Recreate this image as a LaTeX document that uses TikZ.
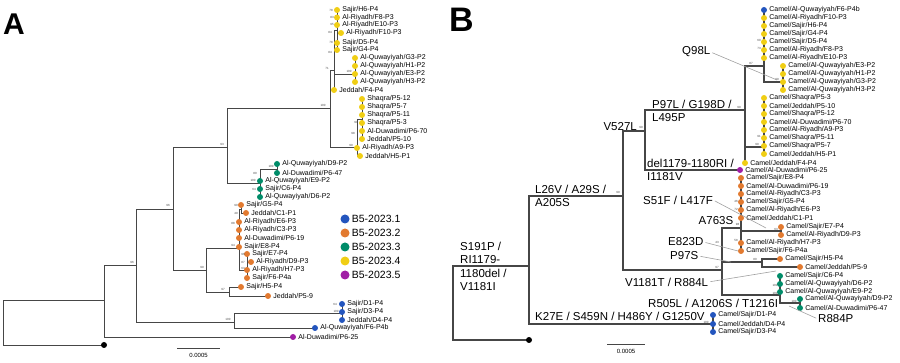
\documentclass[tikz,border=0pt]{standalone}
\usepackage{fontspec}
\setmainfont{Liberation Sans}
\usepackage{tikz}
\usetikzlibrary{arrows.meta,positioning,calc}
\definecolor{cbleu}{RGB}{35,85,190}
\definecolor{corange}{RGB}{226,122,48}
\definecolor{cvert}{RGB}{0,140,105}
\definecolor{cjaune}{RGB}{240,206,20}
\definecolor{cviolet}{RGB}{160,30,165}
\definecolor{gristrait}{RGB}{70,70,70}
\definecolor{grisfleche}{RGB}{160,160,160}
\pgfdeclarelayer{fond}
\pgfsetlayers{fond,main}

\begin{document}
\begin{tikzpicture}[x=1pt, y=-1pt, >=Stealth, label distance=2pt,
    brA/.style={draw=gristrait, line width=0.9pt},
    brB/.style={draw=gristrait, line width=1.2pt},
    leaf/.style={circle, fill=#1, inner sep=0pt, minimum size=6pt},
    tx/.style={font=\fontsize{7}{8}\selectfont, inner sep=0pt},
    bs/.style={font=\fontsize{3}{3}\selectfont, inner sep=0pt, text=gristrait},
    leg/.style={font=\fontsize{10.5}{12}\selectfont, inner sep=0pt},
    mut/.style={font=\fontsize{11.5}{13.3}\selectfont, inner sep=0pt, align=left},
    ptr/.style={draw=grisfleche, line width=0.6pt, shorten <=2pt}]

    \useasboundingbox (0,0) rectangle (900,363);

    % Lettres des panneaux
    \node[font=\bfseries\fontsize{30}{30}\selectfont, inner sep=0pt, anchor=base west] (lettreA) at (3,35) {A};
    \node[font=\bfseries\fontsize{34}{34}\selectfont, inner sep=0pt, anchor=base west] (lettreB) at (449,32) {B};

    % ---------------- Arbre A ----------------
    % Noeuds internes
    \coordinate (aR) at (3,322);
    \coordinate (aN1) at (104,300);
    \coordinate (aN2) at (136,265);
    \coordinate (aN3) at (173,209);
    \coordinate (aN4) at (227,147);
    \coordinate (aNy) at (330,108);
    \coordinate (aNy1) at (334,70);
    \coordinate (aBB) at (337,30);
    \coordinate (aNq) at (355,74);
    \coordinate (aNsh) at (357,147);
    \coordinate (aNs2) at (362,119);
    \coordinate (aNg) at (260,183);
    \coordinate (aNg2) at (277,169);
    \coordinate (aNor) at (206,270);
    \coordinate (aNob) at (239,248);
    \coordinate (aNoG) at (241,209);
    \coordinate (aNoE) at (247,270);
    \coordinate (aNoh) at (229,292);
    \coordinate (aNbl) at (234,322);
    \coordinate (aNb1) at (342,313);

    % B5-2023.4 (jaune)
    \node[leaf=cjaune, label={[tx]right:Sajir/H6-P4}] (aH6) at (337,10) {};
    \node[leaf=cjaune, label={[tx]right:Al-Riyadh/F8-P3}] (aF8) at (337,17.5) {};
    \node[leaf=cjaune, label={[tx]right:Al-Riyadh/E10-P3}] (aE10) at (337,25) {};
    \node[leaf=cjaune, label={[tx]right:Al-Riyadh/F10-P3}] (aF10) at (341,33) {};
    \node[leaf=cjaune, label={[tx]right:Sajir/D5-P4}] (aD5) at (337,43) {};
    \node[leaf=cjaune, label={[tx]right:Sajir/G4-P4}] (aG4) at (337,50) {};
    \node[leaf=cjaune, label={[tx]right:Al-Quwayiyah/G3-P2}] (aG3) at (355,58) {};
    \node[leaf=cjaune, label={[tx]right:Al-Quwayiyah/H1-P2}] (aH1) at (355,66) {};
    \node[leaf=cjaune, label={[tx]right:Al-Quwayiyah/E3-P2}] (aE3) at (355,74) {};
    \node[leaf=cjaune, label={[tx]right:Al-Quwayiyah/H3-P2}] (aH3) at (355,82) {};
    \node[leaf=cjaune, label={[tx]right:Jeddah/F4-P4}] (aF4) at (334,90) {};
    \node[leaf=cjaune, label={[tx]right:Shaqra/P5-12}] (aP512) at (362,99) {};
    \node[leaf=cjaune, label={[tx]right:Shaqra/P5-7}] (aP57) at (362,107) {};
    \node[leaf=cjaune, label={[tx]right:Shaqra/P5-11}] (aP511) at (362,115) {};
    \node[leaf=cjaune, label={[tx]right:Shaqra/P5-3}] (aP53) at (362,123) {};
    \node[leaf=cjaune, label={[tx]right:Al-Duwadimi/P6-70}] (aP670) at (362,131) {};
    \node[leaf=cjaune, label={[tx]right:Jeddah/P5-10}] (aP510) at (362,139) {};
    \node[leaf=cjaune, label={[tx]right:Al-Riyadh/A9-P3}] (aA9) at (357,148) {};
    \node[leaf=cjaune, label={[tx]right:Jeddah/H5-P1}] (aH5P1) at (360,156) {};

    % B5-2023.3 (vert)
    \node[leaf=cvert, label={[tx]right:Al-Quwayiyah/D9-P2}] (aD9) at (277,164) {};
    \node[leaf=cvert, label={[tx]right:Al-Duwadimi/P6-47}] (aP647) at (277,173) {};
    \node[leaf=cvert, label={[tx]right:Al-Quwayiyah/E9-P2}] (aE9) at (260,181) {};
    \node[leaf=cvert, label={[tx]right:Sajir/C6-P4}] (aC6) at (260,189) {};
    \node[leaf=cvert, label={[tx]right:Al-Quwayiyah/D6-P2}] (aD6) at (260,197) {};

    % B5-2023.2 (orange)
    \node[leaf=corange, label={[tx]right:Sajir/G5-P4}] (aG5) at (241,205) {};
    \node[leaf=corange, label={[tx]right:Jeddah/C1-P1}] (aC1) at (246,213) {};
    \node[leaf=corange, label={[tx]right:Al-Riyadh/E6-P3}] (aE6) at (239,222) {};
    \node[leaf=corange, label={[tx]right:Al-Riyadh/C3-P3}] (aC3) at (239,230) {};
    \node[leaf=corange, label={[tx]right:Al-Duwadimi/P6-19}] (aP619) at (239,238) {};
    \node[leaf=corange, label={[tx]right:Sajir/E8-P4}] (aE8) at (239,247) {};
    \node[leaf=corange, label={[tx]right:Sajir/E7-P4}] (aE7) at (247,254) {};
    \node[leaf=corange, label={[tx]right:Al-Riyadh/D9-P3}] (aD9r) at (251,262) {};
    \node[leaf=corange, label={[tx]right:Al-Riyadh/H7-P3}] (aH7) at (247,270) {};
    \node[leaf=corange, label={[tx]right:Sajir/F6-P4a}] (aF6a) at (247,278) {};
    \node[leaf=corange, label={[tx]right:Sajir/H5-P4}] (aH5) at (241,287) {};
    \node[leaf=corange, label={[tx]right:Jeddah/P5-9}] (aP59) at (268,296) {};

    % B5-2023.1 (bleu) et B5-2023.5 (violet)
    \node[leaf=cbleu, label={[tx]right:Sajir/D1-P4}] (aD1) at (342,304) {};
    \node[leaf=cbleu, label={[tx]right:Sajir/D3-P4}] (aD3) at (342,312) {};
    \node[leaf=cbleu, label={[tx]right:Jeddah/D4-P4}] (aD4) at (342,320) {};
    \node[leaf=cbleu, label={[tx]right:Al-Quwayiyah/F6-P4b}] (aF6b) at (315,328) {};
    \node[leaf=cviolet, label={[tx]right:Al-Duwadimi/P6-25}] (aP625) at (293,337) {};
    \node[leaf=black] (aOut) at (104,345) {};

    % Valeurs de bootstrap
    \node[bs] (ba1) at (132,262) {96};
    \node[bs] (ba2) at (168,205) {96};
    \node[bs] (ba3) at (222,144) {93};
    \node[bs] (ba4) at (323,105) {100};
    \node[bs] (ba5) at (202,267) {99};
    \node[bs] (ba6) at (233,245) {94};
    \node[bs] (ba7) at (223,289) {97};
    \node[bs] (ba8) at (228,319) {100};
    \node[bs] (ba9) at (253,180) {100};
    \node[bs] (ba10) at (271,166) {100};
    \node[bs] (ba11) at (255,173) {80};
    \node[bs] (ba12) at (254,189) {64};
    \node[bs] (ba13) at (327,68) {71};
    \node[bs] (ba14) at (349,71) {100};
    \node[bs] (ba15) at (331,10) {78};
    \node[bs] (ba16) at (332,17) {83};
    \node[bs] (ba17) at (332,24) {95};
    \node[bs] (ba18) at (330,32) {84};
    \node[bs] (ba19) at (331,42) {78};
    \node[bs] (ba20) at (330,52) {84};
    \node[bs] (ba21) at (351,145) {99};
    \node[bs] (ba22) at (353,133) {98};
    \node[bs] (ba23) at (356,122) {99};
    \node[bs] (ba24) at (236,205) {90};
    \node[bs] (ba25) at (236,213) {49};
    \node[bs] (ba26) at (233,223) {88};
    \node[bs] (ba27) at (243,254) {96};
    \node[bs] (ba28) at (243,262) {87};
    \node[bs] (ba29) at (243,268) {63};
    \node[bs] (ba30) at (335,304) {64};
    \node[bs] (ba31) at (336,311) {100};

    % Legende
    \node[circle, fill=cbleu, minimum size=9pt, inner sep=0pt, label={[leg]right:B5-2023.1}] (lg1) at (345,219) {};
    \node[circle, fill=corange, minimum size=9pt, inner sep=0pt, label={[leg]right:B5-2023.2}] (lg2) at (345,233) {};
    \node[circle, fill=cvert, minimum size=9pt, inner sep=0pt, label={[leg]right:B5-2023.3}] (lg3) at (345,247) {};
    \node[circle, fill=cjaune, minimum size=9pt, inner sep=0pt, label={[leg]right:B5-2023.4}] (lg4) at (345,261) {};
    \node[circle, fill=cviolet, minimum size=9pt, inner sep=0pt, label={[leg]right:B5-2023.5}] (lg5) at (345,275) {};

    % Echelle A
    \coordinate (aSc1) at (177,348);
    \coordinate (aSc2) at (220,348);
    \draw[brA, line width=0.7pt] (aSc1) -- (aSc2) node[midway, below=5pt, inner sep=0pt, font=\fontsize{6}{6}\selectfont] (aScT) {0.0005};

    % ---------------- Arbre B ----------------
    \coordinate (bR) at (453,303);
    \coordinate (bN1) at (529,266);
    \coordinate (bN2) at (623,196);
    \coordinate (bN3) at (645,131);
    \coordinate (bN4) at (722,270);
    \coordinate (bN5) at (745,110);
    \coordinate (bN6) at (764,66);
    \coordinate (bNq) at (783,82);
    \coordinate (bNsh) at (764,147);
    \coordinate (bNor) at (741,228);
    \coordinate (bNe) at (781,231);
    \coordinate (bNh) at (762,262);
    \coordinate (bNg) at (780,295);
    \coordinate (bNg2) at (800,303);
    \coordinate (bNbl) at (713,324);

    \node[leaf=cbleu, label={[tx]right:Camel/Al-Quwayiyah/F6-P4b}] (bF6b) at (764,10) {};
    \node[leaf=cjaune, label={[tx]right:Camel/Al-Riyadh/F10-P3}] (bF10) at (764,18) {};
    \node[leaf=cjaune, label={[tx]right:Camel/Sajir/H6-P4}] (bH6) at (764,26) {};
    \node[leaf=cjaune, label={[tx]right:Camel/Sajir/G4-P4}] (bG4) at (764,34) {};
    \node[leaf=cjaune, label={[tx]right:Camel/Sajir/D5-P4}] (bD5) at (764,42) {};
    \node[leaf=cjaune, label={[tx]right:Camel/Al-Riyadh/F8-P3}] (bF8) at (764,50) {};
    \node[leaf=cjaune, label={[tx]right:Camel/Al-Riyadh/E10-P3}] (bE10) at (764,58) {};
    \node[leaf=cjaune, label={[tx]right:Camel/Al-Quwayiyah/E3-P2}] (bE3) at (783,66) {};
    \node[leaf=cjaune, label={[tx]right:Camel/Al-Quwayiyah/H1-P2}] (bH1) at (783,74) {};
    \node[leaf=cjaune, label={[tx]right:Camel/Al-Quwayiyah/G3-P2}] (bG3) at (783,82) {};
    \node[leaf=cjaune, label={[tx]right:Camel/Al-Quwayiyah/H3-P2}] (bH3) at (783,90) {};
    \node[leaf=cjaune, label={[tx]right:Camel/Shaqra/P5-3}] (bP53) at (764,98) {};
    \node[leaf=cjaune, label={[tx]right:Camel/Jeddah/P5-10}] (bP510) at (764,106) {};
    \node[leaf=cjaune, label={[tx]right:Camel/Shaqra/P5-12}] (bP512) at (764,114) {};
    \node[leaf=cjaune, label={[tx]right:Camel/Al-Duwadimi/P6-70}] (bP670) at (764,122) {};
    \node[leaf=cjaune, label={[tx]right:Camel/Al-Riyadh/A9-P3}] (bA9) at (764,130) {};
    \node[leaf=cjaune, label={[tx]right:Camel/Shaqra/P5-11}] (bP511) at (764,138) {};
    \node[leaf=cjaune, label={[tx]right:Camel/Shaqra/P5-7}] (bP57) at (764,146) {};
    \node[leaf=cjaune, label={[tx]right:Camel/Jeddah/H5-P1}] (bH5P1) at (764,154) {};
    \node[leaf=cjaune, label={[tx]right:Camel/Jeddah/F4-P4}] (bF4) at (745,163) {};
    \node[leaf=cviolet, label={[tx]right:Camel/Al-Duwadimi/P6-25}] (bP625) at (740,170) {};
    \node[leaf=corange, label={[tx]right:Camel/Sajir/E8-P4}] (bE8) at (741,178) {};
    \node[leaf=corange, label={[tx]right:Camel/Al-Duwadimi/P6-19}] (bP619) at (741,186) {};
    \node[leaf=corange, label={[tx]right:Camel/Al-Riyadh/C3-P3}] (bC3) at (741,194) {};
    \node[leaf=corange, label={[tx]right:Camel/Sajir/G5-P4}] (bG5) at (741,202) {};
    \node[leaf=corange, label={[tx]right:Camel/Al-Riyadh/E6-P3}] (bE6) at (741,210) {};
    \node[leaf=corange, label={[tx]right:Camel/Jeddah/C1-P1}] (bC1) at (741,218) {};
    \node[leaf=corange, label={[tx]right:Camel/Sajir/E7-P4}] (bE7) at (781,227) {};
    \node[leaf=corange, label={[tx]right:Camel/Al-Riyadh/D9-P3}] (bD9r) at (781,235) {};
    \node[leaf=corange, label={[tx]right:Camel/Al-Riyadh/H7-P3}] (bH7) at (741,243) {};
    \node[leaf=corange, label={[tx]right:Camel/Sajir/F6-P4a}] (bF6a) at (741,251) {};
    \node[leaf=corange, label={[tx]right:Camel/Sajir/H5-P4}] (bH5) at (780,259) {};
    \node[leaf=corange, label={[tx]right:Camel/Jeddah/P5-9}] (bP59) at (800,267) {};
    \node[leaf=cvert, label={[tx]right:Camel/Sajir/C6-P4}] (bC6) at (780,276) {};
    \node[leaf=cvert, label={[tx]right:Camel/Al-Quwayiyah/D6-P2}] (bD6) at (780,284) {};
    \node[leaf=cvert, label={[tx]right:Camel/Al-Quwayiyah/E9-P2}] (bE9) at (780,292) {};
    \node[leaf=cvert, label={[tx]right:Camel/Al-Quwayiyah/D9-P2}] (bD9) at (800,299) {};
    \node[leaf=cvert, label={[tx]right:Camel/Al-Duwadimi/P6-47}] (bP647) at (800,308) {};
    \node[leaf=cbleu, label={[tx]right:Camel/Sajir/D1-P4}] (bD1) at (713,315) {};
    \node[leaf=cbleu, label={[tx]right:Camel/Jeddah/D4-P4}] (bD4) at (713,324) {};
    \node[leaf=cbleu, label={[tx]right:Camel/Sajir/D3-P4}] (bD3) at (713,332) {};
    \node[leaf=black] (bOut) at (529,340) {};

    % Bootstrap B
    \node[bs] (bb1) at (618,192) {99};
    \node[bs] (bb2) at (641,127) {99};
    \node[bs] (bb3) at (739,107) {99};
    \node[bs] (bb4) at (751,63) {87};
    \node[bs] (bb5) at (759,40) {60};
    \node[bs] (bb6) at (759,48) {73};
    \node[bs] (bb7) at (777,79) {99};
    \node[bs] (bb8) at (757,144) {99};
    \node[bs] (bb9) at (759,136) {91};
    \node[bs] (bb10) at (736,201) {46};
    \node[bs] (bb11) at (736,209) {72};
    \node[bs] (bb12) at (737.5,224.5) {98};
    \node[bs] (bb13) at (776,229) {63};
    \node[bs] (bb14) at (736,240) {58};
    \node[bs] (bb15) at (717,242) {43};
    \node[bs] (bb16) at (755,259) {80};
    \node[bs] (bb17) at (717,267) {97};
    \node[bs] (bb18) at (775,285) {100};
    \node[bs] (bb19) at (775,293) {100};
    \node[bs] (bb20) at (794,301) {100};
    \node[bs] (bb21) at (706,322) {100};

    % Mutations
    \node[mut, anchor=north west] (mS191) at (460,242) {S191P /\\RI1179-\\1180del /\\V1181I};
    \node[mut, anchor=north west] (mL26) at (535,185) {L26V / A29S /\\A205S};
    \node[mut, anchor=east] (mV527) at (637,127) {V527L};
    \node[mut, anchor=north west] (mP97L) at (652,100) {P97L / G198D /\\L495P};
    \node[mut, anchor=north west] (mDel) at (647,159) {del1179-1180RI /\\I1181V};
    \node[mut, anchor=west] (mQ98) at (682,52) {Q98L};
    \node[mut, anchor=west] (mS51) at (643,200) {S51F / L417F};
    \node[mut, anchor=west] (mA763) at (698.5,221) {A763S};
    \node[mut, anchor=west] (mE823) at (668,242) {E823D};
    \node[mut, anchor=west] (mP97S) at (670,256) {P97S};
    \node[mut, anchor=west] (mV1181) at (625,282) {V1181T / R884L};
    \node[mut, anchor=west] (mR505) at (648,303) {R505L / A1206S / T1216I};
    \node[mut, anchor=west] (mK27) at (535,316) {K27E / S459N / H486Y / G1250V};
    \node[mut, anchor=west] (mR884) at (818,319) {R884P};

    % Lignes de renvoi
    \coordinate (pQ98) at (777,80);
    \coordinate (pS51) at (766,228);
    \coordinate (pE823) at (738,251);
    \coordinate (pP97S) at (731,262);
    \coordinate (pV1181) at (776,271);
    \coordinate (pR884) at (789,306);
    \draw[ptr] (mQ98.east) -- (pQ98);
    \draw[ptr] (mS51.east) -- (pS51);
    \draw[ptr] (mE823.east) -- (pE823);
    \draw[ptr] (mP97S.east) -- (pP97S);
    \draw[ptr] (mV1181.east) -- (pV1181);
    \draw[ptr] (mR884.west) -- (pR884);

    % Echelle B
    \coordinate (bSc1) at (607,344);
    \coordinate (bSc2) at (645,344);
    \draw[brA, line width=0.7pt] (bSc1) -- (bSc2) node[midway, below=5pt, inner sep=0pt, font=\fontsize{6}{6}\selectfont] (bScT) {0.0005};

    % Branches (sous les points)
    \begin{pgfonlayer}{fond}
    \draw[brA] (aR) |- (aN1) (aR) |- (aOut.center);
    \draw[brA] (aN1) |- (aN2) (aN1) |- (aP625.center);
    \draw[brA] (aN2) |- (aN3) (aN2) |- (aNbl);
    \draw[brA] (aN3) |- (aN4) (aN3) |- (aNor);
    \draw[brA] (aN4) |- (aNy) (aN4) |- (aNg);
    \draw[brA] (aNy) |- (aNy1) (aNy) |- (aNsh);
    \draw[brA] (aNy1) |- (aBB) (aNy1) |- (aNq) (aNy1) |- (aF4.center);
    \draw[brA] (aBB) |- (aH6.center) (aBB) |- (aF8.center) (aBB) |- (aE10.center)
               (aBB) |- (aF10.center) (aBB) |- (aD5.center) (aBB) |- (aG4.center);
    \draw[brA] (aNq) |- (aG3.center) (aNq) |- (aH1.center) (aNq) |- (aE3.center) (aNq) |- (aH3.center);
    \draw[brA] (aNsh) |- (aNs2) (aNsh) |- (aA9.center) (aNsh) |- (aH5P1.center);
    \draw[brA] (aNs2) |- (aP512.center) (aNs2) |- (aP57.center) (aNs2) |- (aP511.center)
               (aNs2) |- (aP53.center) (aNs2) |- (aP670.center) (aNs2) |- (aP510.center);
    \draw[brA] (aNg) |- (aNg2) (aNg) |- (aE9.center) (aNg) |- (aC6.center) (aNg) |- (aD6.center);
    \draw[brA] (aNg2) |- (aD9.center) (aNg2) |- (aP647.center);
    \draw[brA] (aNor) |- (aNob) (aNor) |- (aNoh);
    \draw[brA] (aNob) |- (aNoG) (aNob) |- (aE6.center) (aNob) |- (aC3.center)
               (aNob) |- (aP619.center) (aNob) |- (aE8.center) (aNob) |- (aNoE);
    \draw[brA] (aNoG) |- (aG5.center) (aNoG) |- (aC1.center);
    \draw[brA] (aNoE) |- (aE7.center) (aNoE) |- (aD9r.center) (aNoE) |- (aH7.center) (aNoE) |- (aF6a.center);
    \draw[brA] (aNoh) |- (aH5.center) (aNoh) |- (aP59.center);
    \draw[brA] (aNbl) |- (aNb1) (aNbl) |- (aF6b.center);
    \draw[brA] (aNb1) |- (aD1.center) (aNb1) |- (aD3.center) (aNb1) |- (aD4.center);

    \draw[brB] (bR) |- (bN1) (bR) |- (bOut.center);
    \draw[brB] (bN1) |- (bN2) (bN1) |- (bNbl);
    \draw[brB] (bNbl) |- (bD1.center) (bNbl) |- (bD4.center) (bNbl) |- (bD3.center);
    \draw[brB] (bN2) |- (bN3) (bN2) |- (bN4);
    \draw[brB] (bN3) |- (bN5) (bN3) |- (bP625.center);
    \draw[brB] (bN5) |- (bN6) (bN5) |- (bNsh) (bN5) |- (bF4.center);
    \draw[brB] (bN6) |- (bF6b.center) (bN6) |- (bF10.center) (bN6) |- (bH6.center) (bN6) |- (bG4.center)
               (bN6) |- (bD5.center) (bN6) |- (bF8.center) (bN6) |- (bE10.center) (bN6) |- (bNq);
    \draw[brB] (bNq) |- (bE3.center) (bNq) |- (bH1.center) (bNq) |- (bG3.center) (bNq) |- (bH3.center);
    \draw[brB] (bNsh) |- (bP53.center) (bNsh) |- (bP510.center) (bNsh) |- (bP512.center) (bNsh) |- (bP670.center)
               (bNsh) |- (bA9.center) (bNsh) |- (bP511.center) (bNsh) |- (bP57.center) (bNsh) |- (bH5P1.center);
    \draw[brB] (bN4) |- (bNor) (bN4) |- (bNh) (bN4) |- (bNg);
    \draw[brB] (bNor) |- (bE8.center) (bNor) |- (bP619.center) (bNor) |- (bC3.center) (bNor) |- (bG5.center)
               (bNor) |- (bE6.center) (bNor) |- (bC1.center) (bNor) |- (bNe) (bNor) |- (bH7.center) (bNor) |- (bF6a.center);
    \draw[brB] (bNe) |- (bE7.center) (bNe) |- (bD9r.center);
    \draw[brB] (bNh) |- (bH5.center) (bNh) |- (bP59.center);
    \draw[brB] (bNg) |- (bC6.center) (bNg) |- (bD6.center) (bNg) |- (bE9.center) (bNg) |- (bNg2);
    \draw[brB] (bNg2) |- (bD9.center) (bNg2) |- (bP647.center);
    \end{pgfonlayer}

\end{tikzpicture}
\end{document}
